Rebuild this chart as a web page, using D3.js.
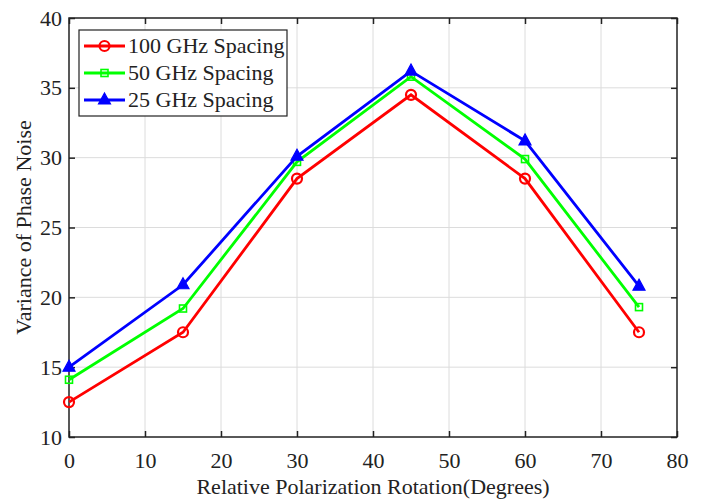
<!DOCTYPE html>
<html lang="en">
  <head>
    <meta charset="UTF-8" />
    <title>Variance of Phase Noise</title>
    <script src="https://d3js.org/d3.v7.min.js"></script>
    <style>
      body { margin: 0; background: #fff; }
      text { font-family: "Liberation Serif", "Times New Roman", "DejaVu Serif", serif; fill: #222; }
      .grid line { stroke: #dcdcdc; stroke-width: 1; }
      .series { fill: none; stroke-width: 2.8; }
    </style>
  </head>
  <body>
    <svg id="canvas" width="701" height="499"></svg>
    <script>
      // data
      const rotation = [0, 15, 30, 45, 60, 75];
      const ghz100 = [12.5, 17.5, 28.5, 34.5, 28.5, 17.5];
      const ghz50 = [14.1, 19.2, 29.7, 35.8, 29.9, 19.3];
      const ghz25 = [15.0, 20.9, 30.1, 36.2, 31.2, 20.8];
      const xTicks = [0, 10, 20, 30, 40, 50, 60, 70, 80];
      const yTicks = [10, 15, 20, 25, 30, 35, 40];

      const series = [
        { name: "100 GHz Spacing", values: ghz100, color: "#ff0000", marker: "circle" },
        { name: "50 GHz Spacing", values: ghz50, color: "#00ff00", marker: "square" },
        { name: "25 GHz Spacing", values: ghz25, color: "#0000ff", marker: "triangle" },
      ];

      const fs = 22;
      const mLeft = 69, mRight = 677, mTop = 18, mBottom = 437;
      const svg = d3.select("#canvas");
      const x = d3.scaleLinear().domain([0, 80]).range([mLeft, mRight]);
      const y = d3.scaleLinear().domain([10, 40]).range([mBottom, mTop]);

      // grid
      const grid = svg.append("g").attr("class", "grid");
      grid.selectAll(".gx").data(xTicks.slice(1, -1)).enter().append("line")
        .attr("x1", (d) => x(d)).attr("x2", (d) => x(d))
        .attr("y1", mTop).attr("y2", mBottom);
      grid.selectAll(".gy").data(yTicks.slice(1, -1)).enter().append("line")
        .attr("x1", mLeft).attr("x2", mRight)
        .attr("y1", (d) => y(d)).attr("y2", (d) => y(d));

      // axes, ticks pointing inward on all four sides
      const styleAxis = (g) => {
        g.select(".domain").remove();
        g.attr("font-family", null).attr("font-size", null);
        g.selectAll("line").attr("stroke", "#222").attr("stroke-width", 1.5);
        g.selectAll("text").style("font-size", fs + "px").attr("fill", "#222");
      };
      svg.append("g").attr("transform", `translate(0,${mBottom})`)
        .call(d3.axisBottom(x).tickValues(xTicks).tickSize(-6).tickPadding(15).tickFormat(d3.format("d")))
        .call(styleAxis);
      svg.append("g").attr("transform", `translate(0,${mTop})`)
        .call(d3.axisTop(x).tickValues(xTicks).tickSize(-6).tickFormat(""))
        .call(styleAxis);
      svg.append("g").attr("transform", `translate(${mLeft},0)`)
        .call(d3.axisLeft(y).tickValues(yTicks).tickSize(-6).tickPadding(7).tickFormat(d3.format("d")))
        .call(styleAxis);
      svg.append("g").attr("transform", `translate(${mRight},0)`)
        .call(d3.axisRight(y).tickValues(yTicks).tickSize(-6).tickFormat(""))
        .call(styleAxis);
      svg.append("rect")
        .attr("x", mLeft).attr("y", mTop)
        .attr("width", mRight - mLeft).attr("height", mBottom - mTop)
        .attr("fill", "none").attr("stroke", "#222").attr("stroke-width", 1.5);

      // marker drawer
      function drawMarker(g, type, cx, cy, color) {
        if (type === "circle") {
          g.append("circle").attr("cx", cx).attr("cy", cy).attr("r", 5)
            .attr("fill", "none").attr("stroke", color).attr("stroke-width", 2.2);
        } else if (type === "square") {
          g.append("rect").attr("x", cx - 3.5).attr("y", cy - 3.5)
            .attr("width", 7).attr("height", 7)
            .attr("fill", "none").attr("stroke", color).attr("stroke-width", 1.6);
        } else {
          g.append("path")
            .attr("d", `M${cx},${cy - 7} L${cx + 6},${cy + 4} L${cx - 6},${cy + 4} Z`)
            .attr("fill", color).attr("stroke", color).attr("stroke-width", 1.2);
        }
      }

      const line = d3.line().x((d) => x(d[0])).y((d) => y(d[1]));
      series.forEach((s) => {
        const pts = rotation.map((r, i) => [r, s.values[i]]);
        const g = svg.append("g");
        g.append("path").datum(pts).attr("class", "series")
          .attr("stroke", s.color).attr("d", line);
        pts.forEach((p) => drawMarker(g, s.marker, x(p[0]), y(p[1]), s.color));
      });

      // legend
      const lg = svg.append("g");
      lg.append("rect").attr("x", 79).attr("y", 30).attr("width", 208).attr("height", 86)
        .attr("fill", "#fff").attr("stroke", "#222").attr("stroke-width", 1.2);
      series.forEach((s, i) => {
        const ly = 46 + i * 27;
        lg.append("line").attr("x1", 84).attr("x2", 125).attr("y1", ly).attr("y2", ly)
          .attr("stroke", s.color).attr("stroke-width", 2.8);
        drawMarker(lg, s.marker, 104.5, ly, s.color);
        lg.append("text").attr("x", 128).attr("y", ly + 7).style("font-size", fs + "px").text(s.name);
      });

      // axis titles
      svg.append("text").attr("x", (mLeft + mRight) / 2).attr("y", 494)
        .attr("text-anchor", "middle").style("font-size", fs + "px")
        .text("Relative Polarization Rotation(Degrees)");
      svg.append("text")
        .attr("transform", `translate(31,${(mTop + mBottom) / 2}) rotate(-90)`)
        .attr("text-anchor", "middle").style("font-size", fs + "px")
        .text("Variance of Phase Noise");
    </script>
  </body>
</html>
